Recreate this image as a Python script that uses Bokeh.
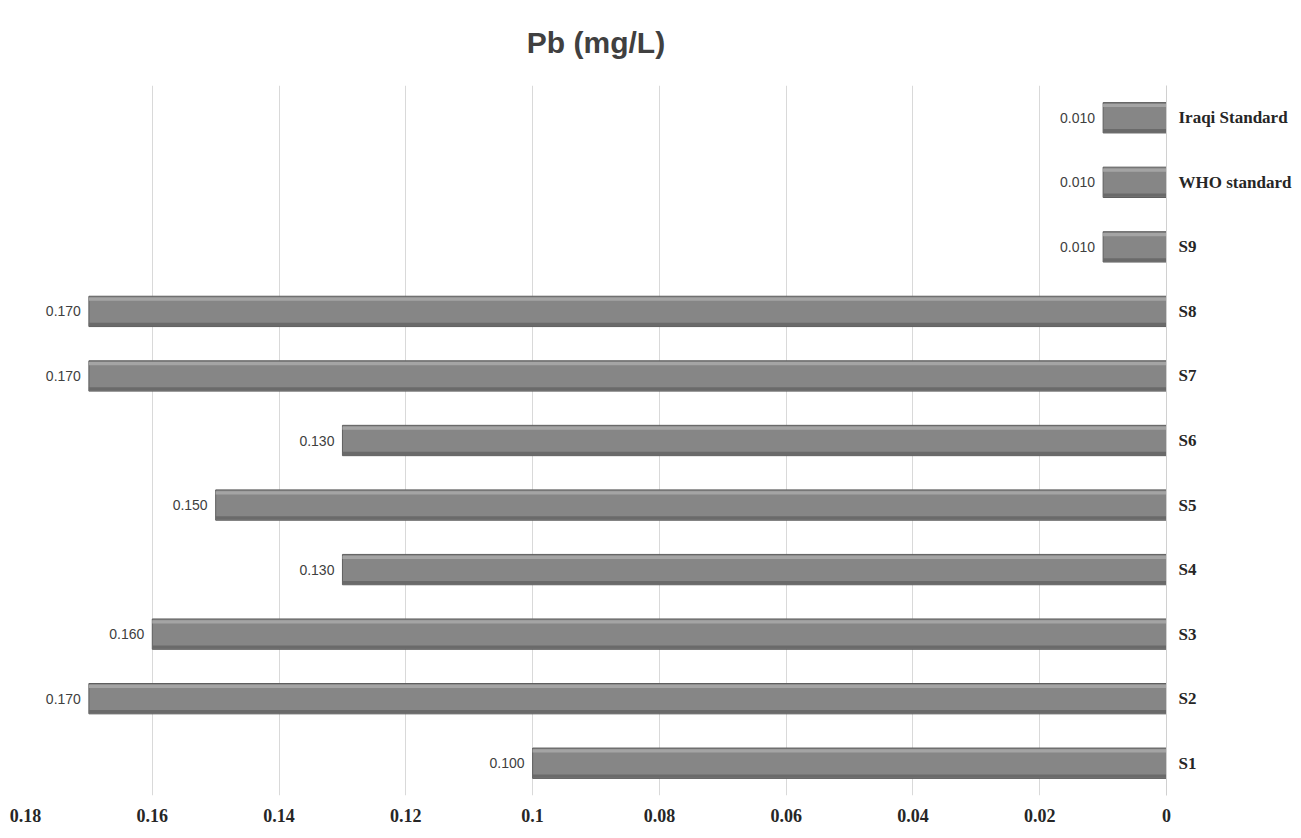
from bokeh.plotting import figure
from bokeh.models import Range1d, FactorRange, FixedTicker, ColumnDataSource, LabelSet
from bokeh.core.properties import value
from bokeh.transform import dodge
from bokeh.embed import file_html
from bokeh.resources import INLINE

categories = ["S1", "S2", "S3", "S4", "S5", "S6", "S7", "S8", "S9", "WHO standard", "Iraqi Standard"]
values = [0.100, 0.170, 0.160, 0.130, 0.150, 0.130, 0.170, 0.170, 0.010, 0.010, 0.010]
value_labels = ["0.100", "0.170", "0.160", "0.130", "0.150", "0.130", "0.170", "0.170", "0.010", "0.010", "0.010"]
tick_values = [0.18, 0.16, 0.14, 0.12, 0.1, 0.08, 0.06, 0.04, 0.02, 0]
tick_labels = ["0.18", "0.16", "0.14", "0.12", "0.1", "0.08", "0.06", "0.04", "0.02", "0"]

src = ColumnDataSource(dict(cat=categories, val=values, lab=value_labels))

p = figure(
    frame_width=1141, frame_height=710,
    x_range=Range1d(0.18, 0), y_range=FactorRange(*categories, range_padding=0),
    y_axis_location="right",
    output_backend="svg", toolbar_location=None,
    min_border_left=25, min_border_right=10, min_border_top=85, min_border_bottom=5,
    title="Pb (mg/L)",
)
p.title.align = "center"
p.title.vertical_align = "top"
p.title.text_font = "Liberation Sans"
p.title.text_font_style = "bold"
p.title.text_font_size = "30px"
p.title.text_color = "#404040"
p.title.standoff = 50

p.outline_line_color = None
p.background_fill_color = "white"

# x axis
p.xaxis.ticker = FixedTicker(ticks=tick_values)
p.xaxis.major_label_overrides = {v: l for v, l in zip(tick_values, tick_labels)}
p.xaxis.axis_line_color = None
p.xaxis.major_tick_line_color = None
p.xaxis.minor_tick_line_color = None
p.xaxis.major_label_text_font = "Liberation Serif"
p.xaxis.major_label_text_font_style = "bold"
p.xaxis.major_label_text_font_size = "18px"
p.xaxis.major_label_text_color = "#262626"
p.xaxis.major_label_standoff = 7

# y axis (right)
p.yaxis.axis_line_color = "#d0d0d0"
p.yaxis.major_tick_line_color = None
p.yaxis.minor_tick_line_color = None
p.yaxis.major_label_text_font = "Liberation Serif"
p.yaxis.major_label_text_font_style = "bold"
p.yaxis.major_label_text_font_size = "17px"
p.yaxis.major_label_text_color = "#262626"
p.yaxis.major_label_standoff = 6

p.xgrid.grid_line_color = "#d9d9d9"
p.xgrid.grid_line_width = 1
p.ygrid.grid_line_color = None

# bars with bevel-like shading
p.hbar(y="cat", left=0, right="val", height=0.47, source=src,
       fill_color="#868686", line_color="#5e5e5e", line_width=1)
p.hbar(y=dodge("cat", 0.19, range=p.y_range), left=0, right="val", height=0.05, source=src,
       fill_color="#a4a4a4", line_color=None)
p.hbar(y=dodge("cat", -0.2, range=p.y_range), left=0, right="val", height=0.05, source=src,
       fill_color="#6a6a6a", line_color=None)

labels = LabelSet(x="val", y="cat", text="lab", source=src,
                  x_offset=-8, text_align="right", text_baseline="middle",
                  text_font=value("Liberation Sans"), text_font_size=value("14px"),
                  text_color=value("#404040"))
p.add_layout(labels)

open("out.html", "w").write(file_html(p, INLINE))
